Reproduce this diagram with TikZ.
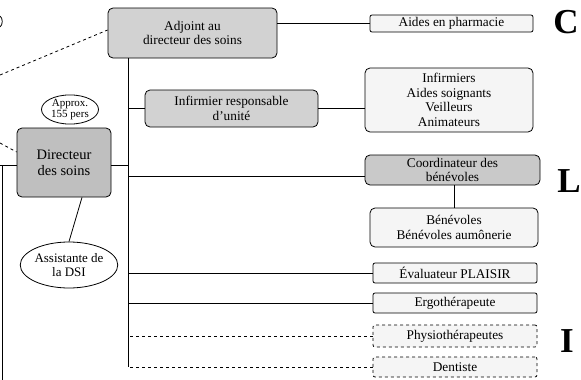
\documentclass[tikz,border=0pt]{standalone}
\usepackage{fontspec}
\setmainfont{Liberation Serif}
\usetikzlibrary{shapes.geometric, positioning, calc}

\begin{document}
\begin{tikzpicture}[
      x=1pt, y=-1pt,
      box/.style={draw, thick, rounded corners=5pt, align=center, inner sep=1pt,
                  font=\fontsize{13.3}{14.5}\selectfont},
      darkbox/.style={box, fill=gray!50},
      midbox/.style={box, fill=gray!35},
      lightbox/.style={box, fill=gray!8},
      flatbox/.style={box, fill=gray!8, rounded corners=2pt, minimum width=164pt, minimum height=20pt},
      dashbox/.style={flatbox, dashed},
      bubble/.style={draw, thick, ellipse, align=center, inner sep=0pt, fill=white},
      letter/.style={font=\fontsize{35}{35}\selectfont\bfseries},
      link/.style={thick},
      dlink/.style={thick, dashed}
    ]
    \useasboundingbox (0,0) rectangle (581,380);

    % Direction
    \node[darkbox, minimum width=94pt, minimum height=69pt, font=\fontsize{14.5}{16}\selectfont] (dir) at (64,162.5) {Directeur\\des soins};
    \node[bubble, minimum width=57pt, minimum height=25pt, font=\fontsize{11}{11}\selectfont] (approx) at (70,109.5) {Approx.\\155 pers};
    \node[bubble, minimum width=88pt, minimum height=46pt, font=\fontsize{13}{14}\selectfont] (assist) at (69,265) {Assistante de\\la DSI};
    \node[midbox, minimum width=169pt, minimum height=50pt] (adj) at (192.5,33) {Adjoint au\\directeur des soins};

    % Branches
    \node[flatbox, minimum width=163pt, minimum height=17pt] (pharma) at (451.5,23.5) {Aides en pharmacie};
    \node[midbox, minimum width=173pt, minimum height=37pt] (irespo) at (231.5,108.5) {Infirmier responsable\\d'unité};
    \node[lightbox, minimum width=168pt, minimum height=64pt] (equipe) at (449,100) {Infirmiers\\Aides soignants\\Veilleurs\\Animateurs};
    \node[darkbox, fill=gray!42, minimum width=175pt, minimum height=30pt] (coord) at (452.5,170) {Coordinateur des\\bénévoles};
    \node[lightbox, minimum width=168pt, minimum height=39pt] (benev) at (454,227.5) {Bénévoles\\Bénévoles aumônerie};
    \node[flatbox] (eval) at (455,273) {Évaluateur PLAISIR};
    \node[flatbox] (ergo) at (455,303) {Ergothérapeute};
    \node[dashbox, minimum height=22pt] (physio) at (455,336) {Physiothérapeutes};
    \node[dashbox] (dent) at (455,367) {Dentiste};

    % Lettres
    \node[letter] (lc) at (566,22.5) {C};
    \node[letter] (ll) at (569,181) {L};
    \node[letter] (li) at (567,341) {I};

    % Tronc
    \coordinate (trunk) at (128,367);
    \draw[link] (adj.south -| trunk) -- (trunk);
    \draw[link] (adj.east |- pharma.west) -- (pharma.west);
    \draw[link] (irespo.west) -- (irespo.west -| trunk);
    \draw[link] (irespo.east) -- (irespo.east -| equipe.west);
    \draw[link] (dir.east |- 0,165) -- (trunk |- 0,165);
    \draw[link] (coord.west) ++(0,6) -- (trunk |- 0,176);
    \draw[link] (coord.south -| benev.north) -- (benev.north);
    \draw[link] (eval.west) -- (eval.west -| trunk);
    \draw[link] (ergo.west) -- (ergo.west -| trunk);
    \draw[dlink] (physio.west) -- (physio.west -| trunk);
    \draw[dlink] (dent.west) -- (trunk);
    \draw[link] (dir.south) ++(18,0) -- (assist.north);

    % Bord gauche
    \coordinate (lefta) at (0,75);
    \coordinate (leftb) at (0,143);
    \coordinate (leftc) at (0,165);
    \coordinate (leftd) at (2,380);
    \draw[dlink] (lefta) -- (adj.west |- 0,30);
    \draw[dlink] (leftb) -- (dir.west |- 0,152);
    \draw[link] (leftc) -- (dir.west |- leftc);
    \draw[link] (leftc -| leftd) -- (leftd);
    \draw[thick] (0,16) .. controls (3,18) and (3,25) .. (0,27);
  \end{tikzpicture}
\end{document}
